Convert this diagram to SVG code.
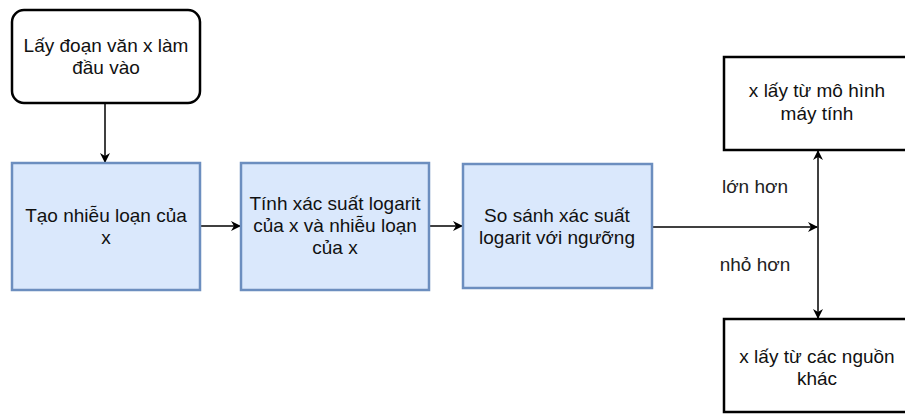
<svg xmlns="http://www.w3.org/2000/svg" width="905" height="414" viewBox="0 0 905 414">
<style>
.t{font-family:"Liberation Sans",Arial,sans-serif;font-size:19px;fill:#111;text-anchor:middle}
.l{font-family:"Liberation Sans",Arial,sans-serif;font-size:19px;fill:#222;text-anchor:middle}
.blue{fill:#dae8fc;stroke:#6c8ebf;stroke-width:2.5}
.wb{fill:#fff;stroke:#000;stroke-width:2.5}
.c{fill:none;stroke:#000;stroke-width:1.5}
</style>
<defs>
<marker id="as" viewBox="0 0 10 10" refX="9" refY="5" markerWidth="10" markerHeight="10" orient="auto-start-reverse" markerUnits="userSpaceOnUse">
<path d="M0,0 L10,5 L0,10 L3,5 Z" fill="#000"/>
</marker>
</defs>
<rect width="905" height="414" fill="#fff"/>
<g id="connectors">
<line class="c" x1="105" y1="103" x2="105" y2="162" marker-end="url(#as)"/>
<line class="c" x1="200" y1="226" x2="240" y2="226" marker-end="url(#as)"/>
<line class="c" x1="429" y1="226" x2="462" y2="226" marker-end="url(#as)"/>
<line class="c" x1="652" y1="227" x2="817" y2="227" stroke="#333" marker-end="url(#as)"/>
<line class="c" x1="818" y1="151" x2="818" y2="318" marker-start="url(#as)" marker-end="url(#as)"/>
<text class="l" x="755" y="193">lớn hơn</text>
<text class="l" x="755" y="271">nhỏ hơn</text>
</g>
<g id="input">
<rect class="wb" x="12" y="10" width="188" height="93" rx="12"/>
<text class="t" x="106" y="52">Lấy đoạn văn x làm</text>
<text class="t" x="106" y="74">đầu vào</text>
</g>
<g id="perturb">
<rect class="blue" x="12" y="163" width="188" height="127"/>
<text class="t" x="106" y="222">Tạo nhiễu loạn của</text>
<text class="t" x="106" y="244">x</text>
</g>
<g id="logprob">
<rect class="blue" x="241" y="163" width="188" height="127"/>
<text class="t" x="335" y="210">Tính xác suất logarit</text>
<text class="t" x="335" y="232">của x và nhiễu loạn</text>
<text class="t" x="335" y="254">của x</text>
</g>
<g id="compare">
<rect class="blue" x="463" y="164" width="189" height="124"/>
<text class="t" x="557" y="222">So sánh xác suất</text>
<text class="t" x="557" y="244">logarit với ngưỡng</text>
</g>
<g id="machine">
<rect class="wb" x="724" y="57" width="189" height="93"/>
<text class="t" x="817" y="97">x lấy từ mô hình</text>
<text class="t" x="817" y="120">máy tính</text>
</g>
<g id="other">
<rect class="wb" x="724" y="319" width="189" height="93"/>
<text class="t" x="817" y="363">x lấy từ các nguồn</text>
<text class="t" x="817" y="385">khác</text>
</g>
</svg>
